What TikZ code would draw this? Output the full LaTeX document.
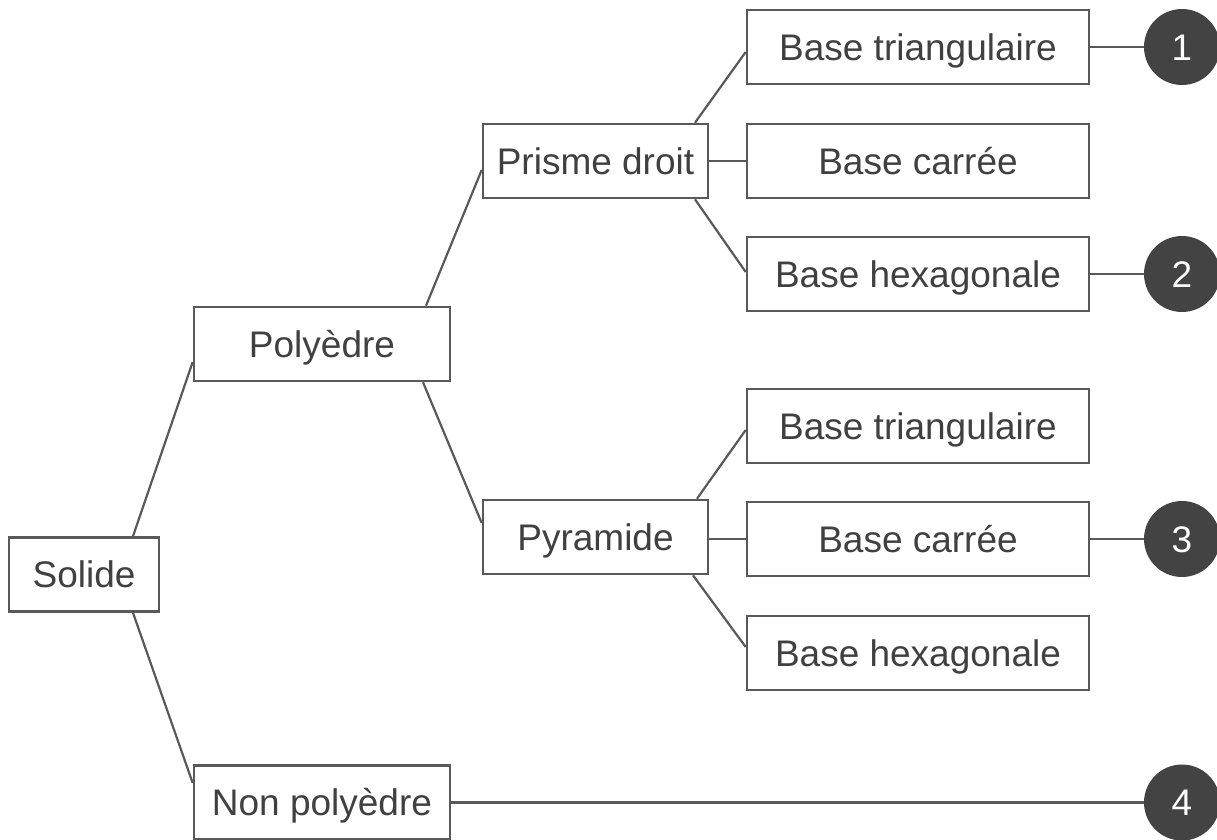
\documentclass[tikz,border=0pt]{standalone}
\usepackage{fontspec}
\setmainfont{Liberation Sans}
\usetikzlibrary{calc}
\definecolor{txtgray}{HTML}{404040}
\definecolor{linegray}{HTML}{595959}
\definecolor{dotgray}{HTML}{434343}

\begin{document}
\begin{tikzpicture}[x=0.5pt,y=-0.5pt,
  box/.style={draw=linegray,line width=1.3pt,text=txtgray,inner sep=0pt,
    font=\fontsize{18.5}{22}\selectfont,text height=13.2pt,text depth=0pt,
    minimum height=37pt},
  wide/.style={box,minimum width=171pt},
  mid/.style={box,minimum width=128pt},
  small/.style={box,minimum width=112.5pt},
  numdot/.style={circle,fill=dotgray,text=white,inner sep=0pt,minimum size=38pt,
    font=\fontsize{18.5}{22}\selectfont,text height=13.2pt,text depth=0pt},
  link/.style={draw=linegray,line width=1.1pt}]
\useasboundingbox (0,0) rectangle (1217,840);
\node[box,minimum width=75pt] (sol) at (84,574.5) {Solide};
\node[mid] (pol) at (322,344) {Polyèdre};
\node[mid] (non) at (322,802.5) {Non polyèdre};
\node[small] (pri) at (595.5,161) {Prisme droit};
\node[small] (pyr) at (595.5,537) {Pyramide};
\node[wide] (bt1) at (918,47) {Base triangulaire};
\node[wide] (bc1) at (918,161) {Base carrée};
\node[wide] (bh1) at (918,274) {Base hexagonale};
\node[wide] (bt2) at (918,426) {Base triangulaire};
\node[wide] (bc2) at (918,539) {Base carrée};
\node[wide] (bh2) at (918,653) {Base hexagonale};
\node[numdot] (n1) at (1182,47) {1};
\node[numdot] (n2) at (1182,274) {2};
\node[numdot] (n3) at (1182,539) {3};
\node[numdot] (n4) at (1182,802.5) {4};
% first level
\draw[link] ($(sol.north)+(49,0)$) -- ($(pol.west)+(0,18)$);
\draw[link] ($(sol.south)+(49,0)$) -- ($(non.west)+(0,-19.5)$);
% second level
\draw[link] ($(pol.north)+(104,0)$) -- ($(pri.west)+(0,9)$);
\draw[link] ($(pol.south)+(101,0)$) -- ($(pyr.west)+(0,-14)$);
% bases
\draw[link] ($(pri.north)+(99.5,0)$) -- ($(bt1.west)+(0,5)$);
\draw[link] (pri.east) -- (bc1.west);
\draw[link] ($(pri.south)+(99.5,0)$) -- ($(bh1.west)+(0,-2)$);
\draw[link] ($(pyr.north)+(101.5,0)$) -- ($(bt2.west)+(0,4)$);
\draw[link] ($(pyr.east)+(0,2)$) -- (bc2.west);
\draw[link] ($(pyr.south)+(97.5,0)$) -- ($(bh2.west)+(0,-6)$);
% numbers
\draw[link] (bt1.east) -- (n1);
\draw[link] (bh1.east) -- (n2);
\draw[link] (bc2.east) -- (n3);
\draw[link] (non.east) -- (n4);
\end{tikzpicture}
\end{document}
